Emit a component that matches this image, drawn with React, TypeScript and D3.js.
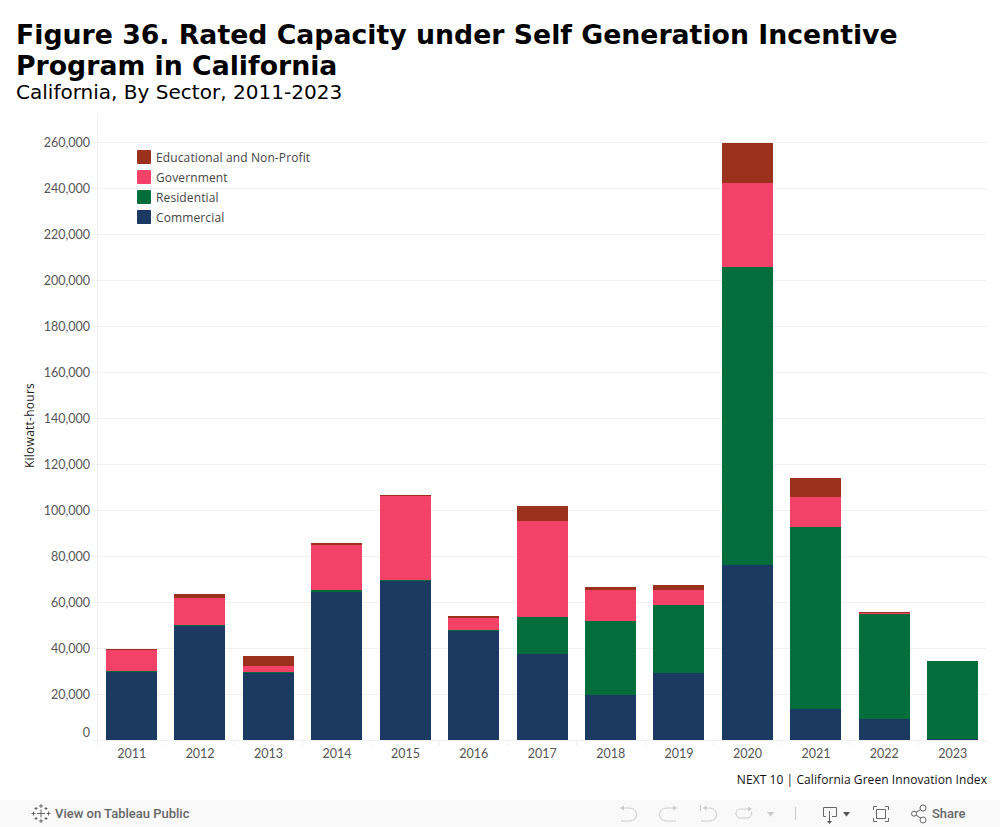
import { useEffect, useRef } from "react";
import * as d3 from "d3";

const years = ["2011", "2012", "2013", "2014", "2015", "2016", "2017", "2018", "2019", "2020", "2021", "2022", "2023"];
const commercial = [29800, 49800, 29300, 64500, 69400, 47600, 37600, 19800, 29300, 76300, 13700, 9300, 450];
const residential = [450, 450, 450, 850, 450, 500, 16100, 32200, 29700, 129600, 79100, 45700, 34100];
const government = [9000, 11750, 2550, 19550, 36350, 5200, 41700, 13400, 6400, 36500, 13100, 450, 0];
const educational = [450, 1700, 4400, 900, 450, 800, 6600, 1300, 2200, 17400, 8200, 500, 0];
const yTicks = [0, 20000, 40000, 60000, 80000, 100000, 120000, 140000, 160000, 180000, 200000, 220000, 240000, 260000];

const seriesNames = ["Commercial", "Residential", "Government", "Educational and Non-Profit"];
const seriesColors = ["#1c3961", "#036e3c", "#f24268", "#9b301d"];
const seriesValues = [commercial, residential, government, educational];

const labelFont = "Lato, sans-serif";
const noteFont = "'Open Sans', sans-serif";
const titleFont = "'DejaVu Sans', sans-serif";
const barFont = "Roboto, sans-serif";

// Tableau logo crosses: x, y, arm length
const logoCrosses: [number, number, number][] = [
  [41, 813.5, 4], [41, 806, 2], [41, 821, 2], [33.5, 813.5, 2], [48.5, 813.5, 2],
  [36, 808.5, 1.5], [46, 808.5, 1.5], [36, 818.5, 1.5], [46, 818.5, 1.5],
];
const disabledIcons = [
  "M621 808H630A6.5 6.5 0 0 1 630 821H621",
  "M676 808H666A6.5 6.5 0 0 0 666 821H676",
  "M700.5 805V811M703 808H710A6.5 6.5 0 0 1 710 821H701",
  "M750 809H740.5A4.5 4.5 0 0 0 740.5 818H747.5A4.5 4.5 0 0 0 751.5 812",
  "M795.5 807V820",
];
const activeIcons = [
  "M826 816.5H823.5V807.5H836.5V816.5H832M829.5 811V821.5",
  "M873.5 810V806.5H877M885 806.5H888.5V810M873.5 818V821.5H877M885 821.5H888.5V818",
  "M876.5 809.5H885.5V818.5H876.5Z",
  "M916 812.3L921 809.3M916 815L921 818.3",
];
const shareCircles: [number, number, number][] = [[914, 813.7, 2.5], [923, 808, 3], [923, 820, 3]];
const arrowHeads: [string, string][] = [
  ["M620 808L624 805.5V810.5Z", "#ccc"],
  ["M677 808L673 805.5V810.5Z", "#ccc"],
  ["M703 808L706.5 805.5V810.5Z", "#ccc"],
  ["M752 809L748 806.5V811.5Z", "#ccc"],
  ["M767 812H774.5L770.7 816.5Z", "#ccc"],
  ["M843 812H850L846.5 816.5Z", "#555"],
  ["M827 821L829.5 824L832 821Z", "#555"],
];

export default function App() {
  const svgRef = useRef<SVGSVGElement>(null);

  useEffect(() => {
    if (!svgRef.current) return;
    const svg = d3.select(svgRef.current);
    svg.selectAll("*").remove();

    const left = 97.5;
    const right = 987;
    const bottom = 740.5;
    const top = 113;

    const x = d3.scaleBand<string>().domain(years).range([left, right]).paddingInner(0).paddingOuter(0);
    const y = d3.scaleLinear().domain([0, 260000]).range([bottom, 142.5]);
    const barWidth = 51;

    // Titles
    svg.append("text").attr("x", 16).attr("y", 43.5).attr("font-family", titleFont).attr("font-weight", "bold")
      .attr("font-size", 26.73).attr("fill", "#000").text("Figure 36. Rated Capacity under Self Generation Incentive");
    svg.append("text").attr("x", 16).attr("y", 74.5).attr("font-family", titleFont).attr("font-weight", "bold")
      .attr("font-size", 26.73).attr("fill", "#000").text("Program in California");
    svg.append("text").attr("x", 16).attr("y", 99).attr("font-family", titleFont)
      .attr("font-size", 20.05).attr("fill", "#000").text("California, By Sector, 2011-2023");

    // Gridlines
    svg.append("g").selectAll("line").data(yTicks).enter().append("line")
      .attr("x1", left - 5).attr("x2", right)
      .attr("y1", d => y(d)).attr("y2", d => y(d))
      .attr("stroke", "#f0f0f0").attr("stroke-width", 1);

    // Axis lines and year dividers
    svg.append("line").attr("x1", left).attr("x2", left).attr("y1", top).attr("y2", bottom + 5)
      .attr("stroke", "#f0f0f0");
    svg.append("g").selectAll("line").data(years.slice(1)).enter().append("line")
      .attr("x1", d => x(d) as number).attr("x2", d => x(d) as number)
      .attr("y1", bottom).attr("y2", bottom + 5).attr("stroke", "#f0f0f0");

    // Stacked bars, nudged so crispEdges lands on the same pixels as the original
    const rows = years.map((year, i) => {
      const row: Record<string, number | string> = { year };
      seriesNames.forEach((name, s) => (row[name] = seriesValues[s][i]));
      return row;
    });
    const stacked = d3.stack<Record<string, number | string>>().keys(seriesNames)(rows);
    stacked.forEach((layer, s) => {
      svg.append("g").selectAll("rect").data(layer).enter().append("rect")
        .attr("x", d => (x(d.data.year as string) as number) + (x.bandwidth() - barWidth) / 2 - 0.2)
        .attr("width", barWidth)
        .attr("y", d => y(d[1]) - 0.2)
        .attr("height", d => y(d[0]) - y(d[1]))
        .attr("shape-rendering", "crispEdges")
        .attr("fill", seriesColors[s]);
    });

    // Y tick labels, the zero label sits above the baseline
    svg.append("g").selectAll("text").data(yTicks).enter().append("text")
      .attr("x", 90).attr("y", d => (d === 0 ? y(d) - 4 : y(d) + 4.5))
      .attr("text-anchor", "end").attr("font-family", labelFont).attr("font-size", 12.5)
      .attr("fill", "#555").text(d => d3.format(",")(d));

    // X tick labels
    svg.append("g").selectAll("text").data(years).enter().append("text")
      .attr("x", d => (x(d) as number) + x.bandwidth() / 2).attr("y", 758)
      .attr("text-anchor", "middle").attr("font-family", labelFont).attr("font-size", 12.5)
      .attr("fill", "#555").text(d => d);

    // Y axis title
    svg.append("text").attr("transform", "translate(33.5,425.5) rotate(-90)")
      .attr("text-anchor", "middle").attr("font-family", noteFont).attr("font-size", 12)
      .attr("letter-spacing", 0.25).attr("fill", "#222").text("Kilowatt-hours");

    // Legend
    const legendOrder = [3, 2, 1, 0];
    legendOrder.forEach((s, i) => {
      const row = svg.append("g").attr("transform", `translate(137,${150 + i * 20})`);
      row.append("rect").attr("width", 14).attr("height", 14).attr("rx", 1).attr("fill", seriesColors[s]);
      row.append("text").attr("x", 19).attr("y", 12).attr("font-family", noteFont).attr("font-size", 12)
        .attr("letter-spacing", 0.12).attr("fill", "#444").text(seriesNames[s]);
    });

    // Source note
    svg.append("text").attr("x", 987).attr("y", 784).attr("text-anchor", "end")
      .attr("font-family", noteFont).attr("font-size", 12).attr("letter-spacing", 0.07).attr("fill", "#111")
      .text("NEXT 10 | California Green Innovation Index");

    // Tableau toolbar
    svg.append("rect").attr("x", 0).attr("y", 800).attr("width", 1000).attr("height", 27).attr("fill", "#f9f9f9");
    svg.append("text").attr("x", 55).attr("y", 818).attr("font-family", barFont).attr("font-size", 13)
      .attr("font-weight", 500).attr("fill", "#666").text("View on Tableau Public");
    svg.append("text").attr("x", 932).attr("y", 818).attr("font-family", barFont).attr("font-size", 13)
      .attr("font-weight", 500).attr("fill", "#666").text("Share");

    const toolbar = svg.append("g").attr("fill", "none");
    logoCrosses.forEach(([cx, cy, arm]) => {
      toolbar.append("path").attr("d", `M${cx - arm} ${cy}H${cx + arm}M${cx} ${cy - arm}V${cy + arm}`)
        .attr("stroke", "#666");
    });
    disabledIcons.forEach(d => toolbar.append("path").attr("d", d).attr("stroke", "#ccc"));
    activeIcons.forEach(d => toolbar.append("path").attr("d", d).attr("stroke", "#666"));
    shareCircles.forEach(([cx, cy, r]) => {
      toolbar.append("circle").attr("cx", cx).attr("cy", cy).attr("r", r).attr("stroke", "#666");
    });
    arrowHeads.forEach(([d, fill]) => toolbar.append("path").attr("d", d).attr("fill", fill));
  }, []);

  return (
    <svg
      ref={svgRef}
      width={1000}
      height={827}
      style={{ position: "absolute", left: 0, top: 0, background: "#fff" }}
    />
  );
}
